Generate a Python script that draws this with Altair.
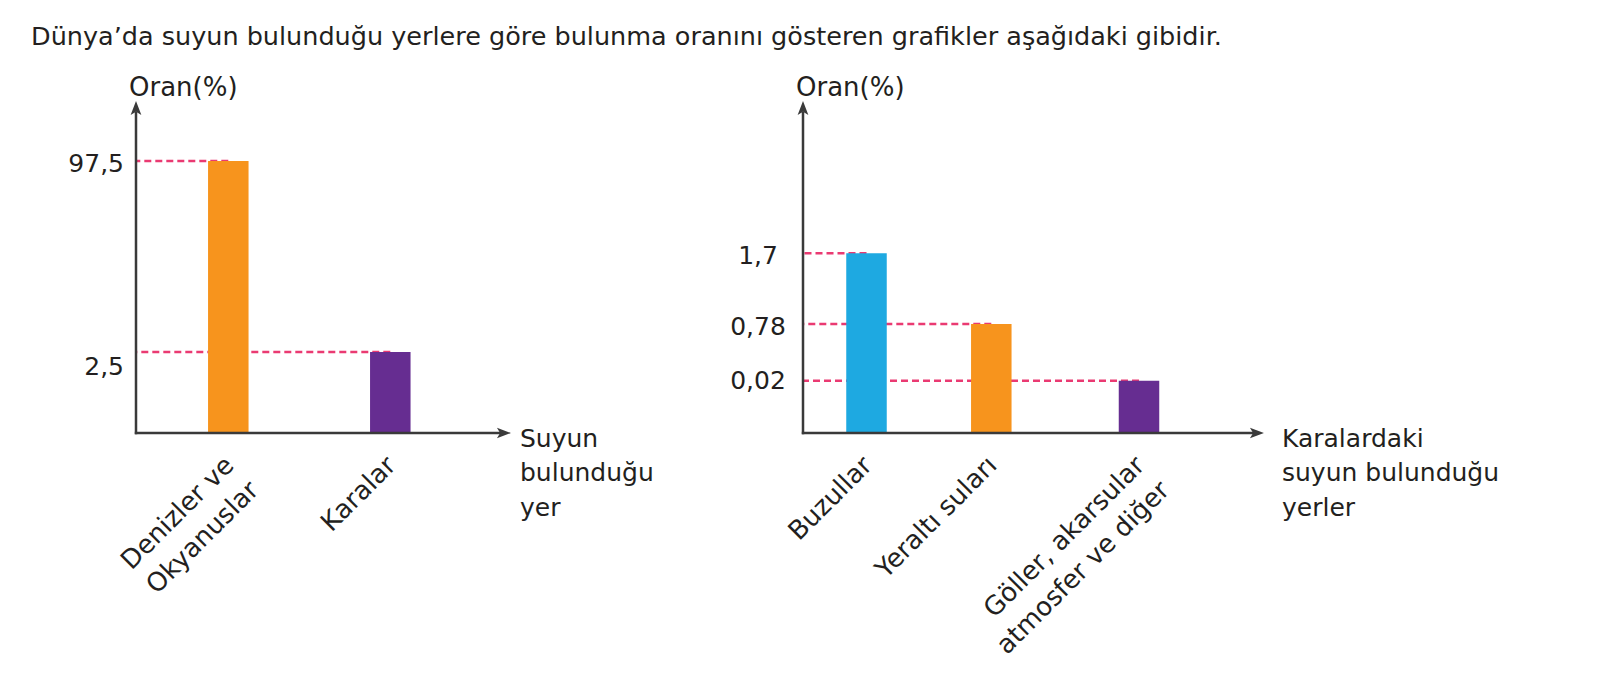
import altair as alt
import pandas as pd

# ---------------- data ----------------
title_text = "Dünya’da suyun bulunduğu yerlere göre bulunma oranını gösteren grafikler aşağıdaki gibidir."
y_title = "Oran(%)"

left_categories = ["Denizler ve\nOkyanuslar", "Karalar"]
left_values = [97.5, 2.5]
left_x_title = "Suyun\nbulunduğu\nyer"

right_categories = ["Buzullar", "Yeraltı suları", "Göller, akarsular\natmosfer ve diğer"]
right_values = [1.7, 0.78, 0.02]
right_x_title = "Karalardaki\nsuyun bulunduğu\nyerler"

# ---------------- styles ----------------
FONT = "DejaVu Sans"
TEXT = "#231f20"
AXIS = "#3a3a3a"
DASH = "#ea3a72"
ORANGE = "#f7941d"
PURPLE = "#662d91"
BLUE = "#1ea9e1"
ARROW = "M0,-1 L0.62,0.62 L0,0.25 L-0.62,0.62 Z"


def make_df(cats, vals):
    return pd.DataFrame({"yer": cats, "oran": vals, "sira": list(range(len(cats)))})


def one(text=""):
    return pd.DataFrame({"t": [text]})


def panel(df, colors, xs_dom, xs_rng, ys_dom, ys_rng, axis_x, axis_end,
          tick_x, tick_align, tick_dy, special_dy, x_title, title_x):
    xs = alt.Scale(domain=xs_dom, range=xs_rng, zero=False, nice=False, padding=0)
    ys = alt.Scale(domain=ys_dom, range=ys_rng, zero=False, nice=False, padding=0)
    X = alt.X("sira:Q", scale=xs, axis=None)
    Y = alt.Y("oran:Q", scale=ys, axis=None)
    base_y = ys_rng[0]

    base = alt.Chart(df)
    dashes = base.mark_rule(color=DASH, strokeWidth=2.4, strokeDash=[7, 4]).encode(
        x=X, x2=alt.value(axis_x), y=Y
    )
    bars = base.mark_bar(width=40.5).encode(
        x=X, y=Y, y2=alt.datum(0),
        color=alt.Color("yer:N", scale=alt.Scale(domain=list(df["yer"]), range=colors), legend=None),
    )
    ticks_normal = base.transform_filter(f"datum.oran != {special_dy[0]}").transform_calculate(
        lab="replace(toString(datum.oran), '.', ',')"
    ).mark_text(font=FONT, fontSize=25, color=TEXT, align=tick_align, baseline="middle", dy=tick_dy).encode(
        x=alt.value(tick_x), y=Y, text="lab:N"
    )
    ticks_special = base.transform_filter(f"datum.oran == {special_dy[0]}").transform_calculate(
        lab="replace(toString(datum.oran), '.', ',')"
    ).mark_text(font=FONT, fontSize=25, color=TEXT, align=tick_align, baseline="middle", dy=special_dy[1]).encode(
        x=alt.value(tick_x), y=Y, text="lab:N"
    )
    cat_labels = base.mark_text(
        font=FONT, fontSize=26, color=TEXT, align="right", baseline="alphabetic",
        angle=315, lineBreak="\n", lineHeight=35, dx=-19, dy=29
    ).encode(x=X, y=alt.datum(0), text="yer:N")

    yaxis = alt.Chart(one()).mark_rule(color=AXIS, strokeWidth=2.5).encode(
        x=alt.value(axis_x), y=alt.value(112), y2=alt.value(base_y + 1.2)
    )
    xaxis = alt.Chart(one()).mark_rule(color=AXIS, strokeWidth=2.5).encode(
        x=alt.value(axis_x - 1.2), x2=alt.value(axis_end - 8), y=alt.value(base_y)
    )
    up = alt.Chart(one()).mark_point(shape=ARROW, filled=True, size=300, color=AXIS, opacity=1, strokeWidth=0).encode(
        x=alt.value(axis_x), y=alt.value(109.7)
    )
    right = alt.Chart(one()).mark_point(shape=ARROW, filled=True, size=300, angle=90, color=AXIS, opacity=1, strokeWidth=0).encode(
        x=alt.value(axis_end - 8.7), y=alt.value(base_y)
    )
    ytitle = alt.Chart(one(y_title)).mark_text(font=FONT, fontSize=26, color=TEXT, align="left", baseline="alphabetic").encode(
        x=alt.value(axis_x - 7), y=alt.value(96), text="t:N"
    )
    xtitle = alt.Chart(one(x_title)).mark_text(
        font=FONT, fontSize=25, color=TEXT, align="left", baseline="alphabetic", lineBreak="\n", lineHeight=34.5
    ).encode(x=alt.value(title_x), y=alt.value(446.5), text="t:N")

    return alt.layer(dashes, bars, ticks_normal, ticks_special, cat_labels,
                     yaxis, xaxis, up, right, ytitle, xtitle)


left = panel(
    make_df(left_categories, left_values), [ORANGE, PURPLE],
    [0, 1], [228.3, 390.3], [0, 2.5, 97.5], [433, 352, 161],
    136, 511, 124, "right", 3, (2.5, 15), left_x_title, 520,
)
right = panel(
    make_df(right_categories, right_values), [BLUE, ORANGE, PURPLE],
    [0, 1, 2], [866.5, 991.3, 1139], [0, 0.02, 0.78, 1.7], [433, 380.7, 324, 253.3],
    803, 1264, 758, "center", 3, (0.02, 0), right_x_title, 1282,
)

title = alt.Chart(one(title_text)).mark_text(
    font=FONT, fontSize=25.5, color=TEXT, align="left", baseline="alphabetic"
).encode(x=alt.value(31), y=alt.value(45), text="t:N")

chart = alt.layer(left, right, title).resolve_scale(
    x="independent", y="independent", color="independent"
).properties(
    width=1597, height=685, padding=0, autosize=alt.AutoSizeParams(type="none"),
    background="white"
).configure_view(strokeWidth=0)

chart.save("out.html", embed_options={"renderer": "svg", "actions": False})
